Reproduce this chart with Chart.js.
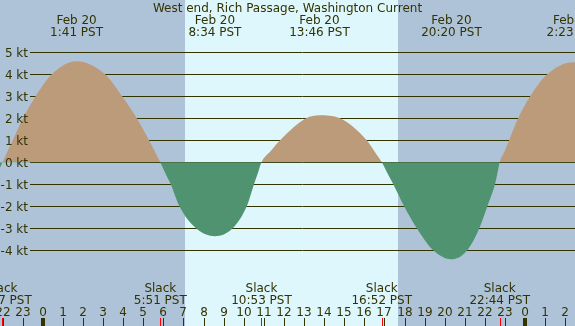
<!DOCTYPE html>
<html lang="en">
<head>
  <meta charset="UTF-8" />
  <title>West end, Rich Passage, Washington Current</title>
  <style>
    body {
      margin: 0;
      background-color: #afc3d8;
    }
    canvas {
      display: block;
    }
  </style>
</head>
<body>
  <canvas id="currentChart" width="575" height="326"></canvas>

  <script src="https://cdn.jsdelivr.net/npm/chart.js"></script>
  <script>
    const TITLE = 'West end, Rich Passage, Washington Current';

    // hours from midnight Feb 20 (negative = Feb 19, >24 = Feb 21)
    const currentTimes = [-2.125, -2.0, -1.75, -1.49, -0.98, -0.35, 0.45, 1.683, 3.10, 3.95, 4.68, 5.29, 5.57,
      5.85, 6.10, 6.37, 6.80, 7.63, 8.567, 9.45, 10.15, 10.51, 10.70,
      10.883, 11.33, 11.81, 13.10, 13.767, 14.79, 16.12, 16.50,
      16.867, 17.15, 17.44, 17.98, 18.61, 19.43, 20.333, 21.12, 21.72, 22.12, 22.50, 22.62,
      22.733, 22.98, 23.2, 23.65, 24.25, 25.1, 26.383, 26.5];
    // knots
    const currentKnots = [-0.25, 0, 0.5, 1, 2, 3, 4, 4.59, 4, 3, 2, 1, 0.5,
      0, -0.5, -1, -2, -3, -3.36, -3, -2, -1, -0.5,
      0, 0.5, 1, 2, 2.14, 2, 1, 0.5,
      0, -0.5, -1, -2, -3, -4, -4.41, -4, -3, -2, -1, -0.5,
      0, 0.5, 1, 2, 3, 4, 4.55, 4.54];

    const peakTimes = [1.683, 8.567, 13.767, 20.333, 26.383];
    const peakDates = ['Feb 20', 'Feb 20', 'Feb 20', 'Feb 20', 'Feb 21'];
    const peakLabels = ['1:41 PST', '8:34 PST', '13:46 PST', '20:20 PST', '2:23 PST'];

    const slackTimes = [-2.05, 5.85, 10.883, 16.867, 22.733];
    const slackLabels = ['21:57 PST', '5:51 PST', '10:53 PST', '16:52 PST', '22:44 PST'];

    const kntTicks = [-4, -3, -2, -1, 0, 1, 2, 3, 4, 5];
    const hourTicks = [-2, -1, 0, 1, 2, 3, 4, 5, 6, 7, 8, 9, 10, 11, 12, 13, 14, 15, 16, 17,
      18, 19, 20, 21, 22, 23, 24, 25, 26];

    const sunrise = 7.1;
    const sunset = 17.66;

    const NIGHT = '#afc3d8';
    const DAY = '#ddf7fd';
    const FLOOD = '#bc9b7b';
    const EBB = '#4f9370';
    const INK = '#333300';
    const FONT = '12px "DejaVu Sans", sans-serif';

    const tidePlugin = {
      id: 'tideDecor',
      beforeDraw(chart) {
        const { ctx, scales: { x } } = chart;
        const w = chart.width, h = chart.height;
        ctx.save();
        ctx.fillStyle = NIGHT;
        ctx.fillRect(0, 0, w, h);
        const x0 = x.getPixelForValue(sunrise);
        const x1 = x.getPixelForValue(sunset);
        ctx.fillStyle = DAY;
        ctx.fillRect(Math.round(x0), 0, Math.round(x1) - Math.round(x0), h);
        ctx.restore();
      },
      beforeDatasetsDraw(chart) {
        const { ctx, scales: { y } } = chart;
        ctx.save();
        ctx.strokeStyle = INK;
        ctx.lineWidth = 1;
        kntTicks.forEach(k => {
          const py = Math.round(y.getPixelForValue(k)) + 0.5;
          ctx.beginPath();
          ctx.moveTo(30, py);
          ctx.lineTo(chart.width, py);
          ctx.stroke();
        });
        ctx.restore();
      },
      afterDatasetsDraw(chart) {
        const { ctx, scales: { x, y } } = chart;
        const h = chart.height;
        ctx.save();
        ctx.font = FONT;
        ctx.fillStyle = INK;
        ctx.textBaseline = 'alphabetic';

        // y labels
        ctx.textAlign = 'right';
        kntTicks.forEach(k => {
          ctx.fillText(k + ' kt', 28, y.getPixelForValue(k) + 4.5);
        });

        // title
        ctx.textAlign = 'center';
        ctx.fillText(TITLE, chart.width / 2, 12);

        // peak labels
        peakTimes.forEach((t, i) => {
          const px = x.getPixelForValue(t);
          ctx.fillText(peakDates[i], px, 24);
          ctx.fillText(peakLabels[i], px, 36);
        });

        // slack labels
        slackTimes.forEach((t, i) => {
          const px = x.getPixelForValue(t);
          ctx.fillText('Slack', px, 292);
          ctx.fillText(slackLabels[i], px, 304);
        });

        // hour labels and ticks
        hourTicks.forEach(hr => {
          const px = Math.round(x.getPixelForValue(hr));
          const lab = ((hr % 24) + 24) % 24;
          ctx.fillStyle = INK;
          ctx.fillText(String(lab), px, 316);
          if (lab === 0) {
            ctx.fillRect(px - 2, 318, 4, h - 318);
          } else {
            ctx.fillRect(px, 318, 1, h - 318);
          }
        });

        // slack markers
        ctx.fillStyle = '#ff0000';
        slackTimes.forEach(t => {
          const px = Math.round(x.getPixelForValue(t));
          ctx.fillRect(px, 318, 1, h - 318);
        });
        ctx.restore();
      }
    };

    const points = currentTimes.map((t, i) => ({ x: t, y: currentKnots[i] }));

    new Chart(document.getElementById('currentChart').getContext('2d'), {
      type: 'line',
      data: {
        datasets: [{
          data: points,
          borderWidth: 0,
          pointRadius: 0,
          cubicInterpolationMode: 'monotone',
          fill: { target: 'origin', above: FLOOD, below: EBB }
        }]
      },
      options: {
        responsive: false,
        animation: false,
        layout: { padding: 0 },
        scales: {
          x: { type: 'linear', display: false, min: -2.125, max: 26.48 },
          y: { display: false, min: -7.441, max: 7.377 }
        },
        plugins: {
          legend: { display: false },
          tooltip: { enabled: false }
        }
      },
      plugins: [tidePlugin]
    });
  </script>
</body>
</html>
